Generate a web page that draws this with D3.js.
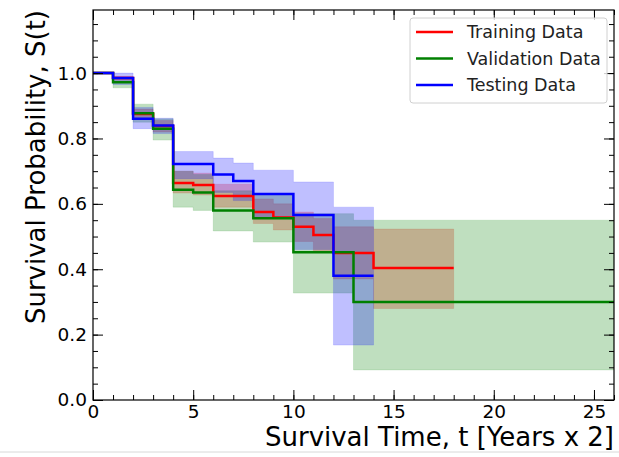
<!DOCTYPE html>
<html>
<head>
<meta charset="utf-8">
<script src="https://cdn.jsdelivr.net/npm/d3@7"></script>
<style>
  body { margin: 0; background: #fff; }
  svg { font-family: "DejaVu Sans", sans-serif; }
</style>
</head>
<body>
<svg id="chart" width="619" height="457"></svg>
<script>
// Kaplan-Meier steps (step="post")
const trainTimes = [0, 1, 2, 3, 4, 5, 6, 8, 9, 10, 11, 12, 14];
const trainSurv  = [1, 0.985, 0.875, 0.838, 0.664, 0.658, 0.624, 0.575, 0.558, 0.53, 0.505, 0.45, 0.404];
const trainUpper = [1, 0.99, 0.89, 0.855, 0.70, 0.694, 0.66, 0.615, 0.60, 0.575, 0.555, 0.53, 0.523];
const trainLower = [1, 0.978, 0.858, 0.82, 0.633, 0.627, 0.59, 0.54, 0.52, 0.485, 0.455, 0.37, 0.28];
const trainEnd = 18;

const valTimes = [0, 1, 2, 3, 4, 5, 6, 8, 10, 13];
const valSurv  = [1, 0.972, 0.877, 0.83, 0.643, 0.635, 0.58, 0.556, 0.452, 0.30];
const valUpper = [1, 0.985, 0.905, 0.86, 0.70, 0.69, 0.64, 0.63, 0.57, 0.55];
const valLower = [1, 0.955, 0.85, 0.795, 0.59, 0.58, 0.517, 0.483, 0.327, 0.092];
const valEnd = 26;

const testTimes = [0, 1, 2, 3, 4, 6, 7, 8, 10, 12];
const testSurv  = [1, 0.985, 0.86, 0.84, 0.722, 0.69, 0.67, 0.63, 0.566, 0.38];
const testUpper = [1, 1.0, 0.895, 0.862, 0.76, 0.74, 0.725, 0.703, 0.667, 0.59];
const testLower = [1, 0.965, 0.83, 0.815, 0.677, 0.635, 0.61, 0.555, 0.46, 0.168];
const testEnd = 14;

const xTicks = [0, 5, 10, 15, 20, 25];
const yTicks = [0, 0.2, 0.4, 0.6, 0.8, 1.0];

const svg = d3.select("#chart");
const margin = { left: 93, right: 5, top: 10, bottom: 57 };
const W = 619, H = 457;

const x = d3.scaleLinear().domain([0, 26]).range([margin.left, W - margin.right]);
const y = d3.scaleLinear().domain([0, 1.193]).range([H - margin.bottom, margin.top]);

function toSteps(times, surv, upper, lower, end) {
    const pts = times.map((t, i) => ({ t: t, s: surv[i], hi: upper[i], lo: lower[i] }));
    const last = pts[pts.length - 1];
    pts.push({ t: end, s: last.s, hi: last.hi, lo: last.lo });
    return pts;
}

const series = [
    { name: "Training Data", color: "#ff0000", pts: toSteps(trainTimes, trainSurv, trainUpper, trainLower, trainEnd) },
    { name: "Validation Data", color: "#008000", pts: toSteps(valTimes, valSurv, valUpper, valLower, valEnd) },
    { name: "Testing Data", color: "#0000ff", pts: toSteps(testTimes, testSurv, testUpper, testLower, testEnd) }
];

const area = d3.area()
    .x(d => x(d.t))
    .y0(d => y(d.lo))
    .y1(d => y(d.hi))
    .curve(d3.curveStepAfter);

const line = d3.line()
    .x(d => x(d.t))
    .y(d => y(d.s))
    .curve(d3.curveStepAfter);

svg.append("defs").append("clipPath").attr("id", "clip")
    .append("rect")
    .attr("x", margin.left).attr("y", margin.top)
    .attr("width", W - margin.left - margin.right)
    .attr("height", H - margin.top - margin.bottom);

const plot = svg.append("g").attr("clip-path", "url(#clip)");

// confidence bands first, then the curves on top
plot.selectAll("path.band")
    .data(series)
    .join("path")
    .attr("class", "band")
    .attr("d", s => area(s.pts))
    .attr("fill", s => s.color)
    .attr("fill-opacity", 0.25)
    .attr("stroke", s => s.color)
    .attr("stroke-opacity", 0.12)
    .attr("stroke-width", 1);

plot.selectAll("path.km")
    .data(series)
    .join("path")
    .attr("class", "km")
    .attr("d", s => line(s.pts))
    .attr("fill", "none")
    .attr("stroke", s => s.color)
    .attr("stroke-width", 2.5);

// axes, ticks pointing inward on all four sides
const xMinor = d3.range(0, 27, 1);
const yMinor = d3.range(0, 1.19, 0.05);

function styleAxis(g) {
    g.select(".domain").remove();
    g.selectAll(".tick line").attr("stroke", "#000").attr("stroke-width", 1);
    g.selectAll(".tick text").attr("fill", "#000").style("font-size", "18.5px")
        .style("font-family", "DejaVu Sans, sans-serif");
}

const bottomY = H - margin.bottom, rightX = W - margin.right;

svg.append("g").attr("transform", `translate(0,${bottomY})`)
    .call(d3.axisBottom(x).tickValues(xMinor).tickSize(-5).tickFormat(""))
    .call(styleAxis);
svg.append("g").attr("transform", `translate(0,${bottomY})`)
    .call(d3.axisBottom(x).tickValues(xTicks).tickSize(-10).tickPadding(5).tickFormat(d3.format("d")))
    .call(styleAxis);
svg.append("g").attr("transform", `translate(0,${margin.top})`)
    .call(d3.axisTop(x).tickValues(xMinor).tickSize(-5).tickFormat(""))
    .call(styleAxis);
svg.append("g").attr("transform", `translate(0,${margin.top})`)
    .call(d3.axisTop(x).tickValues(xTicks).tickSize(-10).tickFormat(""))
    .call(styleAxis);

svg.append("g").attr("transform", `translate(${margin.left},0)`)
    .call(d3.axisLeft(y).tickValues(yMinor).tickSize(-5).tickFormat(""))
    .call(styleAxis);
svg.append("g").attr("transform", `translate(${margin.left},0)`)
    .call(d3.axisLeft(y).tickValues(yTicks).tickSize(-10).tickPadding(6).tickFormat(d3.format(".1f")))
    .call(styleAxis);
svg.append("g").attr("transform", `translate(${rightX},0)`)
    .call(d3.axisRight(y).tickValues(yMinor).tickSize(-5).tickFormat(""))
    .call(styleAxis);
svg.append("g").attr("transform", `translate(${rightX},0)`)
    .call(d3.axisRight(y).tickValues(yTicks).tickSize(-10).tickFormat(""))
    .call(styleAxis);

svg.append("rect")
    .attr("x", margin.left).attr("y", margin.top)
    .attr("width", rightX - margin.left).attr("height", bottomY - margin.top)
    .attr("fill", "none").attr("stroke", "#000").attr("stroke-width", 1.2);

// axis labels (aligned to the right / top end as in the figure)
svg.append("text")
    .attr("x", rightX).attr("y", 446)
    .attr("text-anchor", "end")
    .style("font-size", "26px")
    .text("Survival Time, t [Years x 2]");

svg.append("text")
    .attr("transform", `translate(45,${margin.top}) rotate(-90)`)
    .attr("text-anchor", "end")
    .style("font-size", "26px")
    .text("Survival Probability, S(t)");

// legend
const legend = svg.append("g").attr("transform", "translate(410,18)");
legend.append("rect")
    .attr("width", 197).attr("height", 85).attr("rx", 3)
    .attr("fill", "#fff").attr("fill-opacity", 0.8)
    .attr("stroke", "#d0d0d0").attr("stroke-width", 1);
series.forEach((s, i) => {
    const cy = 14 + i * 26.5;
    legend.append("line")
        .attr("x1", 6).attr("x2", 43).attr("y1", cy).attr("y2", cy)
        .attr("stroke", s.color).attr("stroke-width", 2.5);
    legend.append("text")
        .attr("x", 57).attr("y", cy).attr("dy", "0.35em")
        .style("font-size", "17.5px")
        .attr("fill", "#222")
        .text(s.name);
});

// faint frame line at the bottom of the screenshot
svg.append("line")
    .attr("x1", 0).attr("x2", W).attr("y1", 452).attr("y2", 452)
    .attr("stroke", "#d8d8d8").attr("stroke-width", 1);
</script>
</body>
</html>
